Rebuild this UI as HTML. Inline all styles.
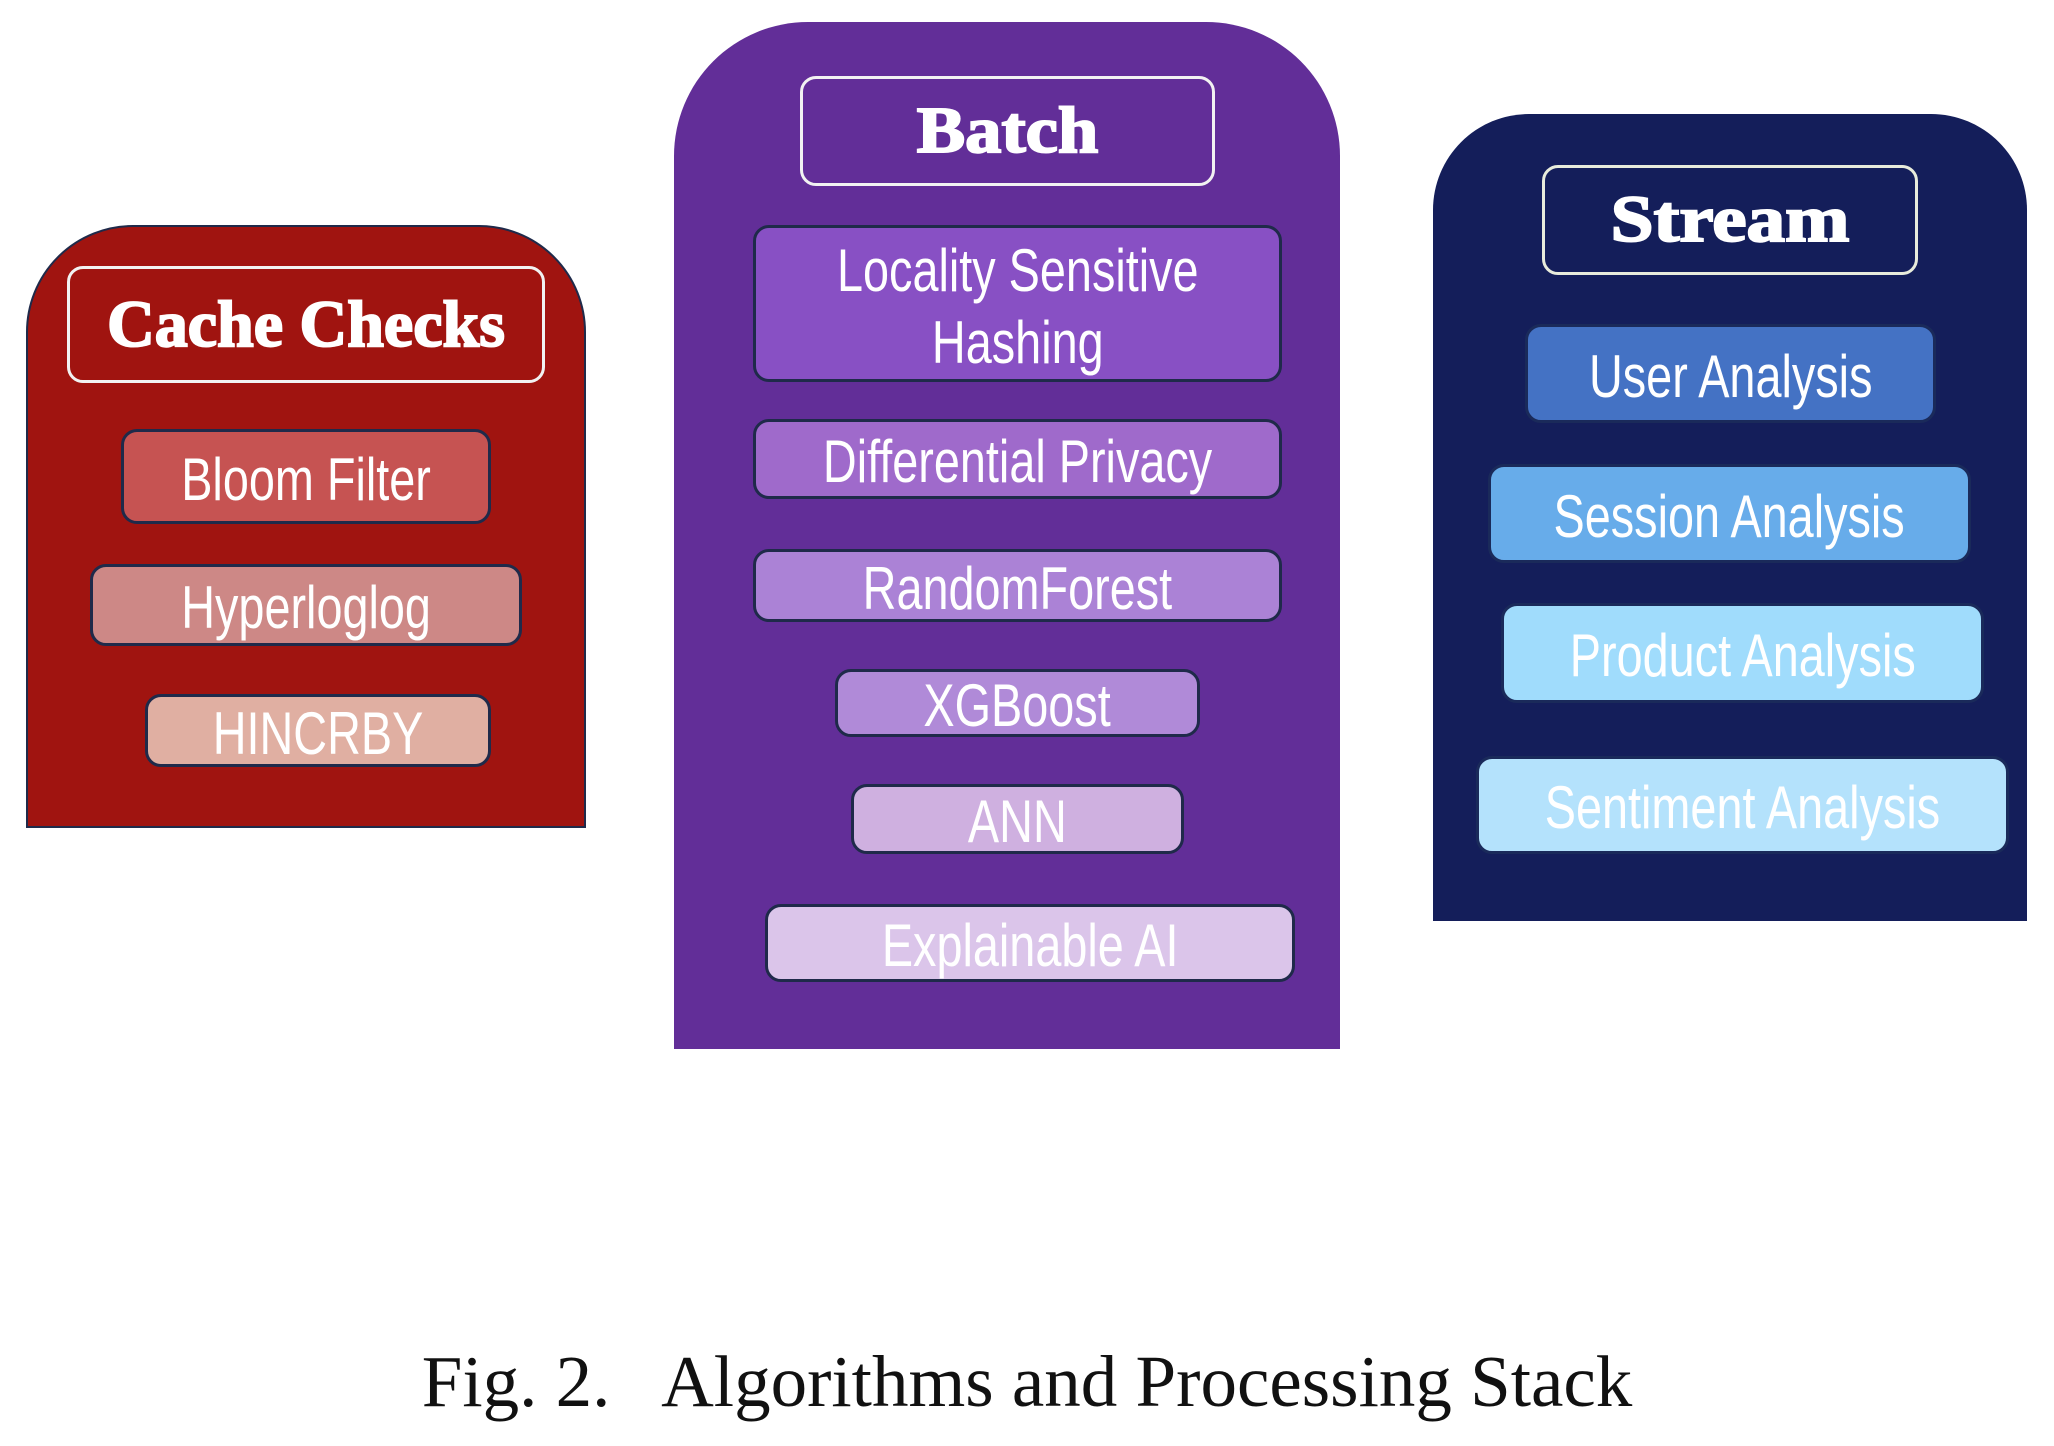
<!DOCTYPE html>
<html><head><meta charset="utf-8"><style>
body{margin:0;width:2054px;height:1446px;background:#fff;position:relative;overflow:hidden}
.c{position:absolute;box-sizing:border-box}
.b{position:absolute;box-sizing:border-box;border:3px solid #1f2a4a;border-radius:16px;display:flex;align-items:center;justify-content:center;color:#fff;font-family:"Liberation Sans Narrow","Liberation Sans",sans-serif;font-size:60px;text-align:center;line-height:1.2}
.b span{display:inline-block;transform:scaleX(0.78);white-space:nowrap;position:relative;top:3px}
.t{position:absolute;box-sizing:border-box;border:3px solid #f2f2f2;border-radius:16px;display:flex;align-items:center;justify-content:center;color:#fff;font-family:"Liberation Serif",serif;font-weight:900;font-size:66px}
.t span{display:inline-block;white-space:nowrap;-webkit-text-stroke:2px #fff}
.cap{position:absolute;left:0;width:2054px;top:1340px;text-align:center;font-family:"Liberation Serif",serif;font-size:73px;color:#111;white-space:pre}
</style></head><body>
<div class="c" style="left:26px;top:225px;width:560px;height:603px;background:#a01410;border:2px solid #1f2a4a;border-radius:107px 107px 0 0"></div>
<div class="t" style="left:67px;top:266px;width:478px;height:117px"><span style="transform:scaleX(1.0)">Cache Checks</span></div>
<div class="b" style="left:121px;top:429px;width:370px;height:95px;background:#c65352"><span>Bloom Filter</span></div>
<div class="b" style="left:90px;top:564px;width:432px;height:82px;background:#cd8886"><span>Hyperloglog</span></div>
<div class="b" style="left:145px;top:694px;width:346px;height:73px;background:#e0afa2"><span>HINCRBY</span></div>

<div class="c" style="left:674px;top:22px;width:666px;height:1027px;background:#622e98;border-radius:134px 134px 0 0"></div>
<div class="t" style="left:800px;top:76px;width:415px;height:110px"><span style="transform:scaleX(1.1)">Batch</span></div>
<div class="b" style="left:753px;top:225px;width:529px;height:157px;background:#8850c4"><span>Locality Sensitive<br>Hashing</span></div>
<div class="b" style="left:753px;top:419px;width:529px;height:80px;background:#9f6acb"><span>Differential Privacy</span></div>
<div class="b" style="left:753px;top:549px;width:529px;height:73px;background:#ab82d6"><span>RandomForest</span></div>
<div class="b" style="left:835px;top:669px;width:365px;height:68px;background:#b08ad8"><span>XGBoost</span></div>
<div class="b" style="left:851px;top:784px;width:333px;height:70px;background:#cfb0e0"><span>ANN</span></div>
<div class="b" style="left:765px;top:904px;width:530px;height:78px;background:#dbc5ea"><span>Explainable AI</span></div>

<div class="c" style="left:1433px;top:114px;width:594px;height:807px;background:#141e5a;border-radius:96px 96px 0 0"></div>
<div class="t" style="left:1542px;top:165px;width:376px;height:110px;border-color:#e8ecdc"><span style="transform:scaleX(1.17)">Stream</span></div>
<div class="b" style="left:1525px;top:324px;width:411px;height:99px;background:#4472c4;border-color:#1a2a5a"><span>User Analysis</span></div>
<div class="b" style="left:1488px;top:464px;width:483px;height:99px;background:#67acea;border-color:#1a2a5a"><span>Session Analysis</span></div>
<div class="b" style="left:1501px;top:603px;width:483px;height:100px;background:#a0dcfc;border-color:#1a2a5a"><span>Product Analysis</span></div>
<div class="b" style="left:1476px;top:756px;width:533px;height:98px;background:#b4e2fc;border-color:#1a2a5a"><span>Sentiment Analysis</span></div>

<div class="cap">Fig. 2.   Algorithms and Processing Stack</div>
</body></html>
